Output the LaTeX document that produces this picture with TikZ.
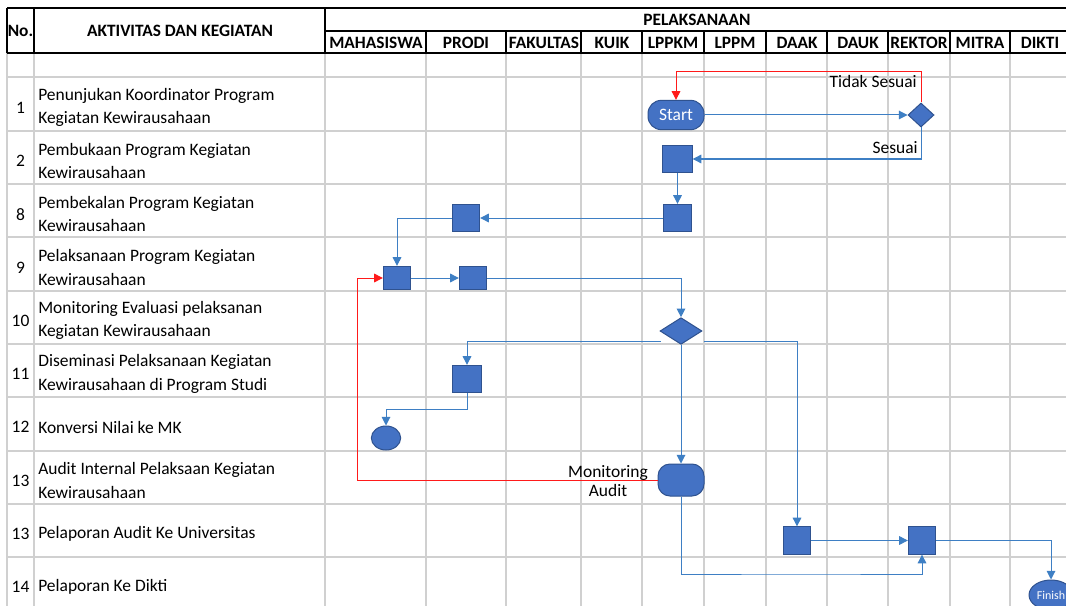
\documentclass[tikz,border=0pt]{standalone}
\usepackage{fontspec}
\setmainfont{Carlito}
\usetikzlibrary{arrows.meta,shapes.geometric,calc}

\definecolor{gridgray}{HTML}{D0D0D0}
\definecolor{shapefill}{HTML}{4472C4}
\definecolor{shapeedge}{HTML}{2F528F}
\definecolor{flow}{HTML}{3E7FC4}
\definecolor{backflow}{HTML}{FF1A1A}

\tikzset{
  gridline/.style={draw=gridgray, line width=1.5pt},
  rule/.style={draw=black, line width=1.5pt},
  cell/.style={inner sep=0pt, align=left},
  head/.style={inner sep=0pt, font=\fontsize{13}{18}\selectfont\bfseries},
  proc/.style={draw=shapeedge, fill=shapefill, line width=0.75pt,
               minimum width=20.5pt, minimum height=20.5pt, inner sep=0pt},
  decision/.style={diamond, draw=shapeedge, fill=shapefill, line width=0.75pt, inner sep=0pt},
  terminal/.style={draw=shapeedge, fill=shapefill, line width=0.75pt, inner sep=0pt, text=white},
  flowline/.style={draw=flow, line width=0.75pt, -{Triangle[length=6.5pt,width=6.5pt]}},
  backline/.style={draw=backflow, line width=0.75pt, -{Triangle[length=6.5pt,width=6.5pt]}},
  note/.style={inner sep=0pt, align=center}
}

\begin{document}
\begin{tikzpicture}[x=0.75pt, y=-0.75pt, font=\fontsize{13.1}{17.6}\selectfont]
\useasboundingbox (0,0) rectangle (1066,606);
\clip (0,0) rectangle (1066,606);
\fill[white] (0,0) rectangle (1066,606);

% ---- sheet grid ----
\foreach \x in {7,34,325,426,506,581,642,704,766,827,888,950,1010}
  \draw[gridline] (\x,53) -- (\x,606);
\foreach \k in {0,...,9}
  \draw[gridline] (7,77.5+53.3*\k) -- (1066,77.5+53.3*\k);

% ---- header borders ----
\fill[white] (7,8) rectangle (1066,53);
\draw[rule] (7,8) -- (1066,8);
\draw[rule] (325,31) -- (1066,31);
\draw[rule] (7,53) -- (1066,53);
\foreach \x in {7,34,325}
  \draw[rule] (\x,8) -- (\x,53);
\foreach \x in {426,506,581,642,704,766,827,888,950,1010}
  \draw[rule] (\x,31) -- (\x,53);

% ---- header texts ----
\node[head] (hno) at (20.5,31) {No.};
\node[head] (hakt) at (180,31) {AKTIVITAS DAN KEGIATAN};
\node[head] (hpel) at (697,20) {PELAKSANAAN};
\node[head] (hmhs) at (376,43) {MAHASISWA};
\node[head] (hprodi) at (466,43) {PRODI};
\node[head] (hfak) at (544,43) {FAKULTAS};
\node[head] (hkuik) at (612,43) {KUIK};
\node[head] (hlppkm) at (673,43) {LPPKM};
\node[head] (hlppm) at (735,43) {LPPM};
\node[head] (hdaak) at (797,43) {DAAK};
\node[head] (hdauk) at (858,43) {DAUK};
\node[head] (hrek) at (919,43) {REKTOR};
\node[head] (hmitra) at (980,43) {MITRA};
\node[head] (hdikti) at (1040,43) {DIKTI};

% ---- activity rows ----
\foreach \n/\t [count=\i from 0] in {
  1/{Penunjukan Koordinator Program\\Kegiatan Kewirausahaan},
  2/{Pembukaan Program Kegiatan\\Kewirausahaan},
  8/{Pembekalan Program Kegiatan\\Kewirausahaan},
  9/{Pelaksanaan Program Kegiatan\\Kewirausahaan},
  10/{Monitoring Evaluasi pelaksanan\\Kegiatan Kewirausahaan},
  11/{Diseminasi Pelaksanaan Kegiatan\\Kewirausahaan di Program Studi},
  12/{Konversi Nilai ke MK},
  13/{Audit Internal Pelaksaan Kegiatan\\Kewirausahaan},
  13/{Pelaporan Audit Ke Universitas},
  14/{Pelaporan Ke Dikti}} {
  \node[cell] (num\i) at (20.5,107.5+53.3*\i) {\n};
  \node[cell, anchor=west] (act\i) at (38,107.5+53.3*\i) {\t};
}

% ---- flow shapes ----
\node[terminal, minimum width=42pt, minimum height=22pt, rounded corners=10pt] (start) at (676,115) {Start};
\node[decision, minimum width=19.5pt, minimum height=18pt] (dec1) at (921,115) {};
\node[proc, minimum width=22pt] (p2) at (677.5,159) {};
\node[proc] (p8) at (677.5,218) {};
\node[proc] (pp8) at (466,218) {};
\node[proc, minimum height=17.5pt] (m9) at (397,278) {};
\node[proc, minimum height=17.5pt] (pp9) at (473,278) {};
\node[decision, minimum width=31.5pt, minimum height=20pt] (dec2) at (681,331) {};
\node[proc, minimum width=21.5pt] (pp11) at (467,379) {};
\node[terminal, ellipse, minimum width=22pt, minimum height=18pt] (c12) at (386,438) {};
\node[terminal, minimum width=34.5pt, minimum height=24pt, rounded corners=9pt] (audit) at (681,480) {};
\node[proc] (daak) at (797,540.5) {};
\node[proc] (rek) at (922,540.5) {};
\node[terminal, ellipse, minimum width=33pt, minimum height=22.5pt,
      font=\fontsize{9}{10}\selectfont] (finish) at (1051,595) {Finish};

% ---- flow labels ----
\node[note, anchor=east] (ltidak) at (917,82) {Tidak Sesuai};
\node[note, anchor=east] (lsesuai) at (918,148) {Sesuai};
\node[note, font=\fontsize{13.1}{14.3}\selectfont] (laudit) at (608,481) {Monitoring\\Audit};

% ---- connectors ----
\coordinate (loopTop) at (0,72);
\coordinate (splitL) at ($(dec2.west)+(1,10)$);
\coordinate (splitR) at ($(dec2.east)+(1,10)$);
\coordinate (bottomRun) at (800,574);
\coordinate (backRun) at (357,0);

\draw[flowline] (start.east) -- (dec1.west);
\draw[backline] (dec1.north) -- (dec1.north |- loopTop) -| (start.north);
\draw[flowline] (dec1.south) |- (p2.east);
\draw[flowline] (p2.south) -- (p8.north);
\draw[flowline] (p8.west) -- (pp8.east);
\draw[flowline] (pp8.west) -| (m9.north);
\draw[flowline] (m9.east) -- (pp9.west);
\draw[flowline] (pp9.east) -| (dec2.north);
\draw[flowline] (splitL) -| (pp11.north);
\draw[flowline] (splitR) -| (daak.north);
\draw[flowline] (dec2.south) -- (audit.north);
\draw[backline] (audit.west) -- (audit.west -| backRun) |- (m9.west);
\draw[flowline] (pp11.south) -- ++(0,16.5) -| (c12.north);
\draw[flowline] (audit.south) |- (bottomRun) -| (rek.south);
\draw[flowline] (daak.east) -- (rek.west);
\draw[flowline] (rek.east) -| (finish.north);
\end{tikzpicture}
\end{document}
